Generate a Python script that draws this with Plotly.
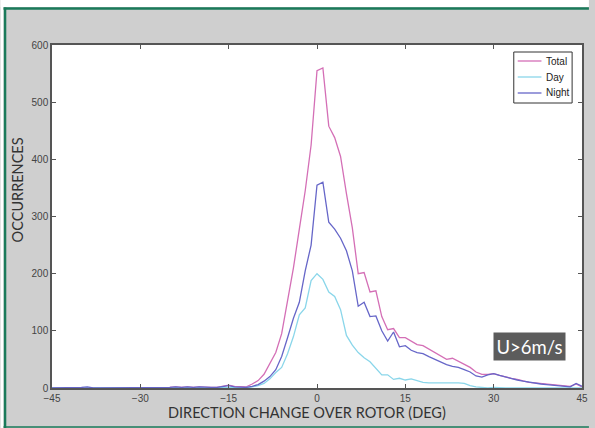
import plotly.graph_objects as go

# Direction change bins (deg)
deg = list(range(-45, 46))

total = [0, 0, 0, 0, 0, 1, 1, 0, 0, 0,      # -45..-36
         0, 0, 0, 0, 0, 1, 0, 0, 0, 0,      # -35..-26
         1, 2, 1, 2, 1, 2, 1, 1, 1, 3,      # -25..-16
         5, 3, 2, 2, 7, 13, 24, 42, 62, 95, # -15..-6
         150, 210, 278, 345, 425, 555, 560, 458, 438, 405,  # -5..4
         340, 280, 200, 202, 168, 170, 125, 102, 104, 88,   # 5..14
         88, 82, 76, 74, 68, 62, 56, 50, 52, 47,            # 15..24
         42, 36, 28, 24, 24, 25, 22, 19, 17, 15,            # 25..34
         12, 10, 9, 8, 7, 6, 5, 4, 3, 7, 2]                 # 35..45

day = [0, 0, 0, 0, 0, 0, 0, 0, 0, 0,
       0, 0, 0, 0, 0, 0, 0, 0, 0, 0,
       0, 0, 0, 0, 0, 0, 0, 0, 0, 1,
       1, 1, 1, 1, 2, 4, 8, 16, 27, 36,
       60, 90, 128, 140, 188, 200, 190, 168, 160, 137,
       92, 75, 62, 53, 46, 34, 23, 23, 15, 17,
       14, 16, 13, 10, 9, 9, 10, 9, 9, 9,
       8, 4, 2, 1, 0, 1, 0, 0, 0, 0,
       0, 0, 0, 0, 0, 0, 0, 0, 0, 0, 0]

night = [0, 0, 0, 0, 0, 1, 2, 0, 0, 0,
         0, 0, 0, 0, 0, 1, 0, 0, 0, 0,
         1, 2, 1, 2, 1, 2, 1, 1, 1, 2,
         4, 2, 1, 1, 3, 6, 12, 20, 32, 55,
         88, 122, 150, 205, 250, 355, 360, 290, 278, 262,
         240, 205, 143, 150, 125, 126, 100, 82, 98, 72,
         74, 66, 62, 60, 55, 50, 46, 41, 38, 36,
         32, 28, 21, 19, 23, 25, 22, 19, 17, 14,
         12, 10, 9, 7, 6, 5, 5, 4, 2, 8, 3]

series_names = ["Total", "Day", "Night"]
series_colors = ["#d46fb6", "#8ad6ea", "#6666c8"]

x_ticks = [-45, -30, -15, 0, 15, 30, 45]
y_ticks = [0, 100, 200, 300, 400, 500, 600]

x_title = "DIRECTION CHANGE OVER ROTOR (DEG)"
y_title = "OCCURRENCES"
badge = "U>6m/s"

fig = go.Figure()
for name, vals, col in zip(series_names, [total, day, night], series_colors):
    fig.add_trace(go.Scatter(x=deg, y=vals, mode="lines", name=name,
                             line=dict(color=col, width=1.3), showlegend=False))

L, R, T, B = 52, 7, 45, 40
W, H = 595, 428
pw, ph = W - L - R, H - T - B


def px(xp):
    return (xp - L) / pw


def py(yp):
    return (H - B - yp) / ph


axis_common = dict(showgrid=False, zeroline=False, showline=True,
                   linecolor="#555555", linewidth=1.5, mirror="ticks",
                   ticks="inside", ticklen=4, tickcolor="#555555",
                   tickfont=dict(family="Liberation Sans Narrow, Arial Narrow, Liberation Sans",
                                 size=10, color="#444444"))

title_font = dict(family="Lato, Open Sans", size=14.5, color="#333333")

annotations = [
    dict(x=px(534.5), y=py(346.5), xref="paper", yref="paper",
         xanchor="center", yanchor="middle",
         text=badge, showarrow=False,
         font=dict(family="Lato, Open Sans", size=18.5, color="white"),
         bgcolor="#5c5c5c", borderpad=2.5),
    dict(x=px(310), y=py(412), xref="paper", yref="paper",
         xanchor="center", yanchor="middle", text=x_title, showarrow=False,
         font=title_font),
    dict(x=px(18), y=py(190), xref="paper", yref="paper",
         xanchor="center", yanchor="middle", text=y_title, showarrow=False,
         textangle=-90, font=title_font),
]

shapes = [
    dict(type="rect", xref="paper", yref="paper",
         x0=px(0), x1=px(W), y0=py(7), y1=py(0),
         fillcolor="white", line=dict(width=0)),
    dict(type="rect", xref="paper", yref="paper",
         x0=px(0), x1=px(3), y0=py(H), y1=py(0),
         fillcolor="white", line=dict(width=0)),
    dict(type="line", xref="paper", yref="paper",
         x0=px(3), x1=px(W), y0=py(8.5), y1=py(8.5),
         line=dict(color="#1a7a5a", width=2.5)),
    dict(type="line", xref="paper", yref="paper",
         x0=px(4.5), x1=px(4.5), y0=py(H), y1=py(7.5),
         line=dict(color="#1a7a5a", width=2.5)),
    dict(type="line", xref="paper", yref="paper",
         x0=px(3), x1=px(W), y0=py(427), y1=py(427),
         line=dict(color="#1a7a5a", width=1.5)),
    # legend box
    dict(type="rect", xref="paper", yref="paper",
         x0=px(519), x1=px(578), y0=py(103), y1=py(52),
         fillcolor="white", line=dict(color="#333333", width=1)),
]

for i, (name, col) in enumerate(zip(series_names, series_colors)):
    yy = 61 + 16 * i
    shapes.append(dict(type="line", xref="paper", yref="paper",
                       x0=px(523), x1=px(547), y0=py(yy), y1=py(yy),
                       line=dict(color=col, width=1.3)))
    annotations.append(dict(x=px(550), y=py(yy), xref="paper", yref="paper",
                            xanchor="left", yanchor="middle", text=name,
                            showarrow=False,
                            font=dict(family="Liberation Sans Narrow, Liberation Sans",
                                      size=10, color="#222222")))

fig.update_layout(
    width=W, height=H,
    margin=dict(l=L, r=R, t=T, b=B),
    paper_bgcolor="#cfcfcf",
    plot_bgcolor="white",
    showlegend=False,
    xaxis=dict(range=[-45, 45], tickvals=x_ticks, **axis_common),
    yaxis=dict(range=[0, 600], tickvals=y_ticks, **axis_common),
    annotations=annotations,
    shapes=shapes,
)

fig.write_html(
    "out.html", config={"displayModeBar": False},
    post_script=("document.body.style.margin='0';document.body.style.padding='0';"
                 "document.body.style.overflow='hidden';"
                 "document.documentElement.style.overflow='hidden';"))
